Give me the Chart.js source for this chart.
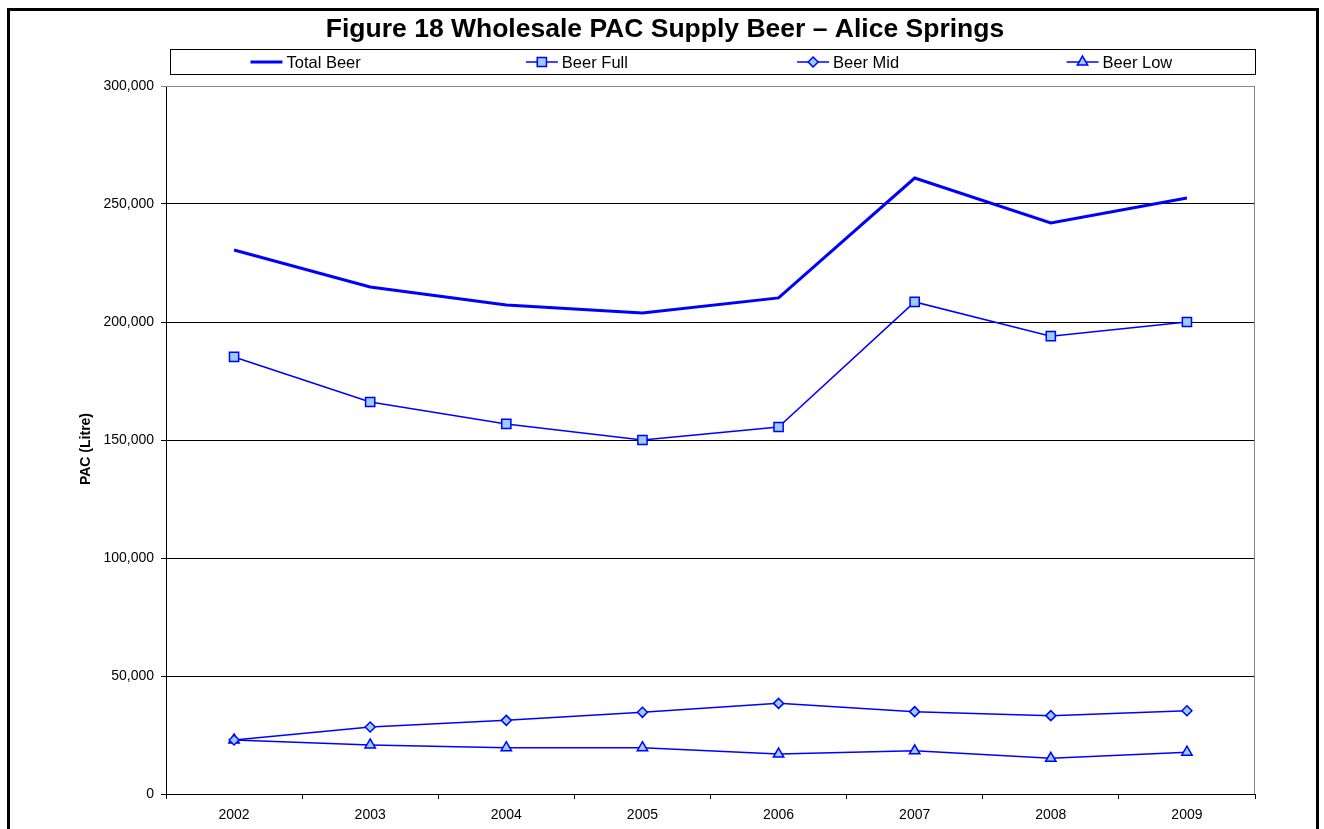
<!DOCTYPE html>
<html>
<head>
<meta charset="utf-8">
<script src="https://cdn.jsdelivr.net/npm/chart.js@4/dist/chart.umd.min.js"></script>
<style>
  html, body { margin: 0; padding: 0; background: #fff; overflow: hidden; }
  #wrap { position: absolute; left: 0; top: 0; width: 1324px; height: 829px; }
</style>
</head>
<body>
<div id="wrap"><canvas id="chart"></canvas></div>
<script>
  // data
  var years = ["2002", "2003", "2004", "2005", "2006", "2007", "2008", "2009"];
  var totalBeer = [230500, 214800, 207200, 203800, 210200, 261000, 242000, 252500];
  var beerFull = [185200, 166100, 156800, 150000, 155500, 208500, 194000, 200000];
  var beerMid = [22900, 28400, 31200, 34600, 38400, 34900, 33200, 35300];
  var beerLow = [22900, 20800, 19600, 19600, 16900, 18300, 15100, 17700];
  var yTicks = [0, 50000, 100000, 150000, 200000, 250000, 300000];

  var chartTitle = "Figure 18 Wholesale PAC Supply Beer \u2013 Alice Springs";
  var yTitle = "PAC (Litre)";
  var blue = "#0000ff";
  var fill = "#99ccff";
  var fam = "'Liberation Sans', Arial, sans-serif";

  // draws outer frame, title, legend box, y title and plot border
  const frame = {
    id: "frame",
    beforeDatasetsDraw(chart) {
      const ctx = chart.ctx;
      const a = chart.chartArea;
      ctx.save();
      ctx.strokeStyle = "#888";
      ctx.lineWidth = 1;
      ctx.beginPath();
      ctx.moveTo(a.left, a.top + 0.5);
      ctx.lineTo(a.right - 0.5, a.top + 0.5);
      ctx.lineTo(a.right - 0.5, a.bottom);
      ctx.stroke();
      ctx.restore();
    },
    afterDraw(chart) {
      const ctx = chart.ctx;
      ctx.save();
      // outer border
      ctx.strokeStyle = "#000";
      ctx.lineWidth = 3;
      ctx.strokeRect(8.5, 9.5, 1309, 840);

      // title
      ctx.fillStyle = "#000";
      ctx.font = "bold 26.5px " + fam;
      ctx.textAlign = "center";
      ctx.textBaseline = "middle";
      ctx.fillText(chartTitle, 665, 30);

      // y axis title
      ctx.save();
      ctx.translate(86, 449);
      ctx.rotate(-Math.PI / 2);
      ctx.font = "bold 14px " + fam;
      ctx.fillText(yTitle, 0, 0);
      ctx.restore();

      // legend
      const lx = 170, ly = 49, lw = 1085, lh = 25;
      ctx.fillStyle = "#fff";
      ctx.fillRect(lx, ly, lw, lh);
      ctx.strokeStyle = "#000";
      ctx.lineWidth = 1;
      ctx.strokeRect(lx + 0.5, ly + 0.5, lw, lh);
      ctx.font = "16.5px " + fam;
      ctx.textAlign = "left";
      const colW = lw / chart.data.datasets.length;
      chart.data.datasets.forEach((ds, i) => {
        const label = ds.label;
        const tw = ctx.measureText(label).width;
        const total = 32 + 4 + tw;
        const x0 = lx + colW * i + colW / 2 - total / 2;
        const cy = ly + lh / 2 + 0.5;
        ctx.strokeStyle = ds.borderColor;
        ctx.lineWidth = ds.borderWidth;
        ctx.beginPath();
        ctx.moveTo(x0, cy);
        ctx.lineTo(x0 + 32, cy);
        ctx.stroke();
        if (ds.pointRadius > 0) {
          ctx.fillStyle = ds.pointBackgroundColor;
          ctx.strokeStyle = ds.pointBorderColor;
          ctx.lineWidth = ds.pointBorderWidth;
          Chart.helpers.drawPoint(ctx, { pointStyle: ds.pointStyle, radius: ds.pointRadius, borderWidth: ds.pointBorderWidth, rotation: 0 }, x0 + 16, cy);
        }
        ctx.fillStyle = "#000";
        ctx.fillText(label, x0 + 36, cy + 1);
      });
      ctx.restore();
    }
  };

  const ctx = document.getElementById("chart");
  new Chart(ctx, {
    type: "line",
    data: {
      labels: years,
      datasets: [
        {
          label: "Total Beer",
          data: totalBeer,
          borderColor: blue,
          borderWidth: 3,
          pointRadius: 0,
          pointStyle: false
        },
        {
          label: "Beer Full",
          data: beerFull,
          borderColor: blue,
          borderWidth: 1.5,
          pointStyle: "rect",
          pointRadius: 6.5,
          pointBackgroundColor: fill,
          pointBorderColor: blue,
          pointBorderWidth: 1.5
        },
        {
          label: "Beer Mid",
          data: beerMid,
          borderColor: blue,
          borderWidth: 1.5,
          pointStyle: "rectRot",
          pointRadius: 5,
          pointBackgroundColor: fill,
          pointBorderColor: blue,
          pointBorderWidth: 1.5
        },
        {
          label: "Beer Low",
          data: beerLow,
          borderColor: blue,
          borderWidth: 1.5,
          pointStyle: "triangle",
          pointRadius: 6,
          pointBackgroundColor: fill,
          pointBorderColor: blue,
          pointBorderWidth: 1.5
        }
      ]
    },
    options: {
      responsive: true,
      maintainAspectRatio: false,
      animation: false,
      layout: { padding: { top: 86, right: 69, bottom: 0, left: 0 } },
      plugins: {
        legend: { display: false },
        title: { display: false },
        tooltip: { enabled: false }
      },
      elements: { line: { tension: 0 } },
      scales: {
        x: {
          offset: true,
          grid: {
            offset: true,
            drawOnChartArea: false,
            drawTicks: true,
            tickLength: 5,
            color: "#000"
          },
          border: { color: "#000", width: 1 },
          ticks: {
            color: "#000",
            padding: 8,
            maxRotation: 0,
            font: { family: fam, size: 14 }
          },
          afterFit: function (scale) { scale.height = 829 - 794; }
        },
        y: {
          min: 0,
          max: 300000,
          afterBuildTicks: function (scale) {
            scale.ticks = yTicks.map(v => ({ value: v }));
          },
          grid: {
            color: function (c) { return c.tick && c.tick.value === 300000 ? "#888" : "#000"; },
            tickLength: 5,
            lineWidth: 1
          },
          border: { color: "#000", width: 1 },
          ticks: {
            color: "#000",
            padding: 7,
            font: { family: fam, size: 14 },
            callback: function (v) { return v.toLocaleString("en-US"); }
          },
          afterFit: function (scale) { scale.width = 166; }
        }
      }
    },
    plugins: [frame]
  });
</script>
</body>
</html>
